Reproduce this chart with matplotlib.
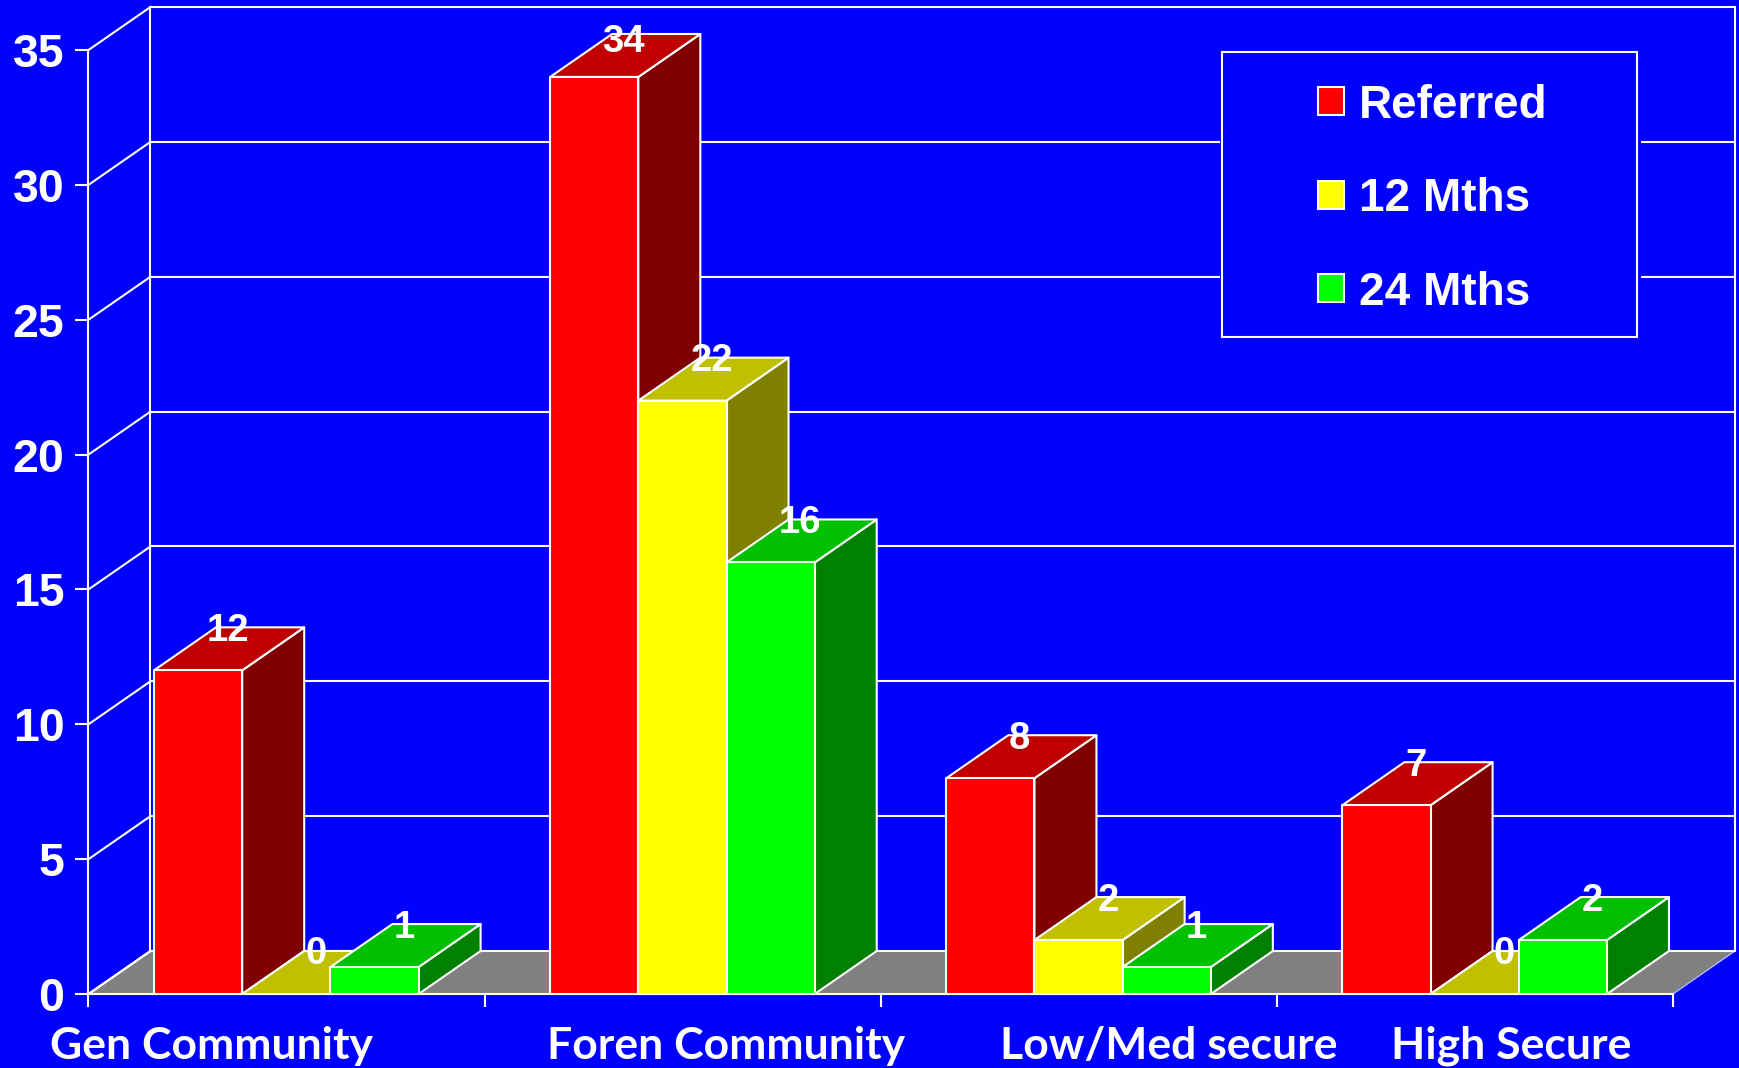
import matplotlib
matplotlib.use("Agg")
import matplotlib.pyplot as plt
from matplotlib.patches import Polygon, Rectangle, Patch

categories = ["Gen Community", "Foren Community", "Low/Med secure", "High Secure"]
referred = [12, 34, 8, 7]
months_12 = [0, 22, 2, 0]
months_24 = [1, 16, 1, 2]
y_ticks = [0, 5, 10, 15, 20, 25, 30, 35]

series_names = ["Referred", "12 Mths", "24 Mths"]
series_values = [referred, months_12, months_24]

# Shades per series: front, top and side faces of each block
front_colors = ["#FF0000", "#FFFF00", "#00FF00"]
top_colors = ["#C00000", "#C0C000", "#00C000"]
side_colors = ["#800000", "#808000", "#008000"]

BLUE = "#0000FF"
W, H = 1740, 1068
LEFT, RIGHT, BASE, TOP = 88.5, 1673, 994, 50
LW = 1.5

# Depth of the 3-D box, expressed in axis units
cat_px = (RIGHT - LEFT) / len(categories)
unit_px = (BASE - TOP) / 35
DX = 62 / cat_px
DY = 43 / unit_px
BAR_W = 88.2 / cat_px
GAP = 65.5 / cat_px

# Label centres sit off the category centres
label_x = [0.31, 1.61, 2.727, 3.592]

# Value labels stop just above the box so they stay on the canvas
LABEL_LIMIT = 35.3
LABEL_DROP = 3.5 / unit_px
LABEL_SHIFT = 1.5 / cat_px

plt.rcParams["font.family"] = ["Liberation Sans", "DejaVu Sans"]
fig = plt.figure(figsize=(W / 100, H / 100), dpi=100, facecolor=BLUE)
ax = fig.add_axes([LEFT / W, 1 - BASE / H, (RIGHT - LEFT) / W, (BASE - TOP) / H])
ax.set_xlim(0, len(categories))
ax.set_ylim(0, 35)
ax.patch.set_visible(False)

for name in ("top", "right"):
    ax.spines[name].set_visible(False)
for name in ("left", "bottom"):
    ax.spines[name].set_color("white")
    ax.spines[name].set_linewidth(LW)

ax.set_yticks(y_ticks)
ax.set_xticks(range(len(categories) + 1))
ax.set_xticklabels([])
ax.tick_params(axis="both", colors="white", width=LW, length=9.4)
ax.tick_params(axis="y", pad=8, labelsize=33.5)
for lab in ax.get_yticklabels():
    lab.set_fontweight("bold")
    lab.set_color("white")

xmax = len(categories)

# Floor of the box
ax.add_patch(Polygon([(0, 0), (xmax, 0), (xmax + DX, DY), (DX, DY)], closed=True,
                     facecolor="#808080", edgecolor="none", zorder=1, clip_on=False))

line = dict(color="white", lw=LW, clip_on=False, zorder=1.5, solid_capstyle="projecting")
ax.plot([0, DX], [0, DY], **line)
ax.plot([xmax, xmax + DX], [0, DY], color="#C8C8FF", lw=0.8, clip_on=False, zorder=1.5)

# Back wall and left wall gridlines
for v in y_ticks:
    ax.plot([DX, xmax + DX], [v + DY, v + DY], **line)
    ax.plot([0, DX], [v, v + DY], **line)
ax.plot([DX, DX], [DY, 35 + DY], **line)
ax.plot([xmax + DX, xmax + DX], [DY, 35 + DY], **line)

# Blocks are painted left to right so nearer faces overlap correctly
z = 3.0
for c in range(len(categories)):
    for s, values in enumerate(series_values):
        v = values[c]
        x0 = c + GAP + s * BAR_W
        x1 = x0 + BAR_W
        edge = dict(edgecolor="white", linewidth=LW, joinstyle="round", clip_on=False)
        ax.add_patch(Polygon([(x1, 0), (x1 + DX, DY), (x1 + DX, v + DY), (x1, v)],
                             closed=True, facecolor=side_colors[s], zorder=z, **edge))
        ax.add_patch(Polygon([(x0, v), (x1, v), (x1 + DX, v + DY), (x0 + DX, v + DY)],
                             closed=True, facecolor=top_colors[s], zorder=z + 0.01, **edge))
        if v > 0:
            ax.add_patch(Rectangle((x0, 0), BAR_W, v, facecolor=front_colors[s],
                                   zorder=z + 0.02, **edge))
        z += 0.1

# Value labels sit on the back edge of each block's top face
for c in range(len(categories)):
    for s, values in enumerate(series_values):
        v = values[c]
        xc = c + GAP + (s + 0.5) * BAR_W + DX / 2 - LABEL_SHIFT
        yc = min(v + DY - LABEL_DROP, LABEL_LIMIT)
        ax.text(xc, yc, str(v), color="white", fontsize=27.5, fontweight="bold",
                ha="center", va="center", zorder=20, clip_on=False)

# Category names
for x, name in zip(label_x, categories):
    ax.text(x, -(1059 - BASE) / unit_px, name, color="white", fontsize=32,
            fontweight="bold", family="Lato", ha="center", va="baseline", clip_on=False)

# Legend panel
fig.add_artist(Rectangle((1220 / W, 1 - 340 / H), 421 / W, 291 / H, transform=fig.transFigure,
                         facecolor=BLUE, edgecolor="none", zorder=10))
fig.add_artist(Rectangle((1222.5 / W, 1 - 337 / H), 414.5 / W, 285.5 / H, transform=fig.transFigure,
                         facecolor=BLUE, edgecolor="white", linewidth=LW, zorder=11))
handles = [Patch(facecolor=f, edgecolor="white", linewidth=LW) for f in front_colors]
leg = fig.legend(handles, series_names, frameon=False,
                 loc="center left", bbox_to_anchor=(1309 / W, 1 - 199 / H),
                 prop={"family": "Liberation Sans", "weight": "bold", "size": 33},
                 labelcolor="white", handlelength=0.56, handleheight=0.56,
                 handletextpad=0.33, labelspacing=1.08, borderpad=0.2, borderaxespad=0)
leg.set_zorder(12)

fig.savefig("out.png", dpi=100, facecolor=BLUE)
